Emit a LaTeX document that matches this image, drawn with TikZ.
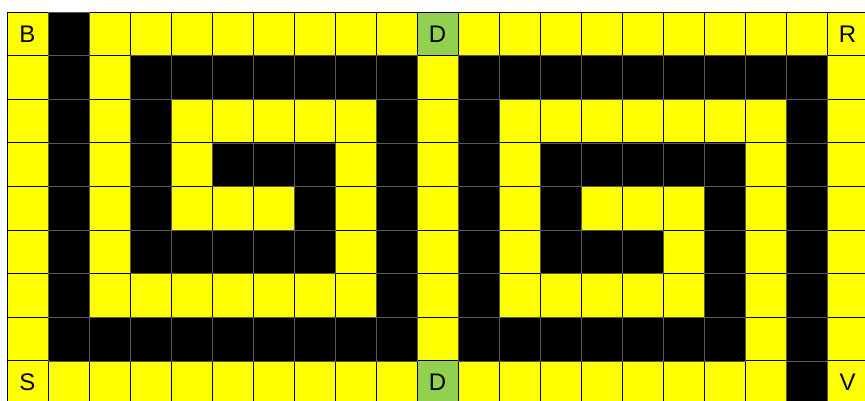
\documentclass[tikz,border=0pt]{standalone}
\usepackage{fontspec}
\setmainfont{Liberation Sans}
\usetikzlibrary{positioning}
\definecolor{dgreen}{HTML}{92D050}
\definecolor{cellyellow}{HTML}{FFFF00}
\tikzset{
  cellmark/.style={inner sep=0pt,font=\fontsize{24}{24}\selectfont},
  gridline/.style={line width=0.8pt},
  wallcell/.style={fill=black,draw=black!65,line width=0.6pt}
}

\begin{document}
\begin{tikzpicture}[x=41pt,y=-43.6pt]
\useasboundingbox (-7/41,-12/43.6) rectangle (858/41,389/43.6);
\fill[cellyellow] (0,0) rectangle (21,9);
\fill[dgreen] (10,0) rectangle (11,1);
\fill[dgreen] (10,8) rectangle (11,9);
\foreach \i in {0,...,21}
  \draw[gridline] (\i,0)--(\i,9);
\foreach \j in {0,...,9}
  \draw[gridline] (0,\j)--(21,\j);
% black runs: row/first/last column
\foreach \r/\a/\b in {0/1/1, 1/1/1, 1/3/9, 1/11/19,
  2/1/1, 2/3/3, 2/9/9, 2/11/11, 2/19/19,
  3/1/1, 3/3/3, 3/5/7, 3/9/9, 3/11/11, 3/13/17, 3/19/19,
  4/1/1, 4/3/3, 4/7/7, 4/9/9, 4/11/11, 4/13/13, 4/17/17, 4/19/19,
  5/1/1, 5/3/7, 5/9/9, 5/11/11, 5/13/15, 5/17/17, 5/19/19,
  6/1/1, 6/9/9, 6/11/11, 6/17/17, 6/19/19,
  7/1/9, 7/11/17, 7/19/19, 8/19/19}
  \foreach \c in {\a,...,\b}
    \draw[wallcell] (\c,\r) rectangle (\c+1,\r+1);
\node[cellmark] (b) at (0.5,0.5) {B};
\node[cellmark] (dtop) at (10.5,0.5) {D};
\node[cellmark] (r) at (20.5,0.5) {R};
\node[cellmark] (s) at (0.5,8.5) {S};
\node[cellmark] (dbot) at (10.5,8.5) {D};
\node[cellmark] (v) at (20.5,8.5) {V};
\end{tikzpicture}
\end{document}
